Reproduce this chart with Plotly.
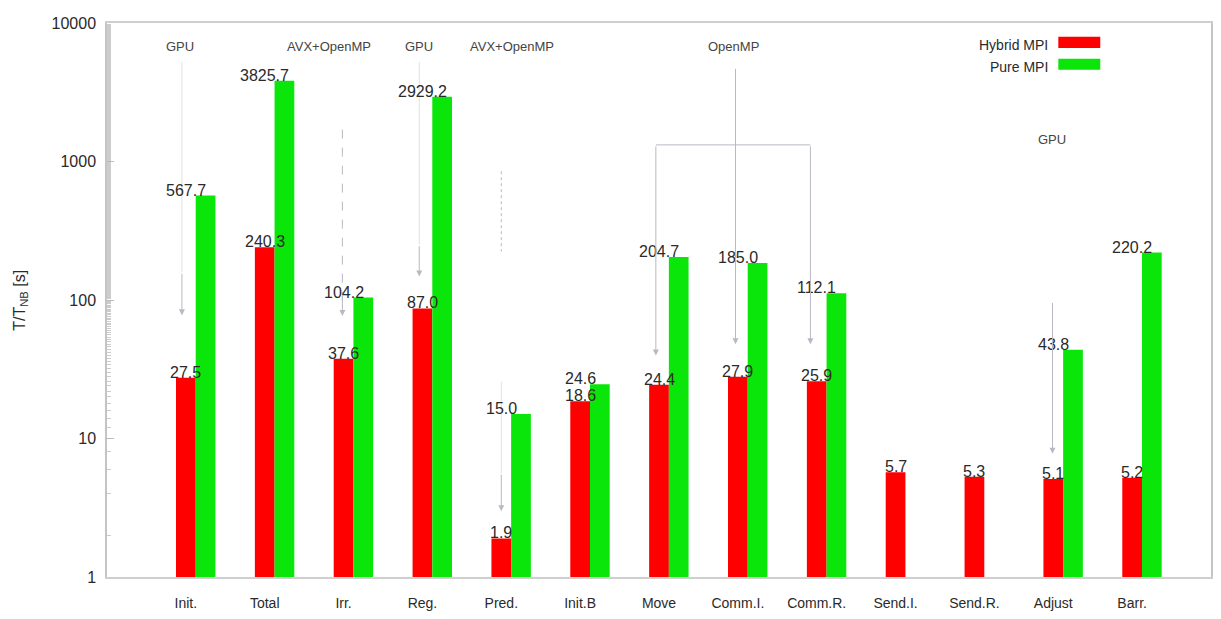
import math
import plotly.graph_objects as go

# Timing breakdown per phase, normalised by T_NB
categories = ["Init.", "Total", "Irr.", "Reg.", "Pred.", "Init.B", "Move",
              "Comm.I.", "Comm.R.", "Send.I.", "Send.R.", "Adjust", "Barr."]
hybrid_mpi = [27.5, 240.3, 37.6, 87.0, 1.9, 18.6, 24.4, 27.9, 25.9, 5.7, 5.3, 5.1, 5.2]
pure_mpi = [567.7, 3825.7, 104.2, 2929.2, 15.0, 24.6, 204.7, 185.0, 112.1, None, None, 43.8, 220.2]
y_tick_values = [1, 10, 100, 1000, 10000]
y_tick_labels = ["1", "10", "100", "1000", "10000"]

RED = "#ff0000"
GREEN = "#0ae60a"
TEXT = "#2a2a2a"
GUIDE = "#bdb6c4"
FAINT = "#e2dfe6"
FONT = "Liberation Sans, Arial, sans-serif"
BAR_W = 0.25

pos = list(range(len(categories)))

fig = go.Figure()
fig.add_trace(go.Bar(x=pos, y=hybrid_mpi, width=BAR_W, offset=-BAR_W / 2,
                     marker=dict(color=RED, line=dict(width=0)), name="Hybrid MPI",
                     showlegend=False))
fig.add_trace(go.Bar(x=pos, y=pure_mpi, width=BAR_W, offset=BAR_W / 2,
                     marker=dict(color=GREEN, line=dict(width=0)), name="Pure MPI",
                     showlegend=False))

annotations = []

# value labels above each bar, centred on the category
for series in (hybrid_mpi, pure_mpi):
    for i, v in enumerate(series):
        if v is None:
            continue
        annotations.append(dict(x=i, y=math.log10(v), xref="x", yref="y",
                                text=f"{v:.1f}", showarrow=False, yanchor="bottom",
                                xanchor="center", yshift=-5,
                                font=dict(family=FONT, size=16, color=TEXT)))

# optimisation notes at the top of the chart
notes = [(-0.08, 0.957, "GPU"), (1.82, 0.957, "AVX+OpenMP"), (2.96, 0.957, "GPU"),
         (4.13, 0.957, "AVX+OpenMP"), (6.95, 0.957, "OpenMP"), (10.98, 0.79, "GPU")]
for x, y, t in notes:
    annotations.append(dict(x=x, y=y, xref="x", yref="paper", text=t, showarrow=False,
                            xanchor="center", yanchor="middle",
                            font=dict(family=FONT, size=13, color="#444")))


def arrow(x, y_tail, y_tip, color=GUIDE):
    annotations.append(dict(x=x, y=y_tip, ax=x, ay=y_tail, xref="x", yref="y",
                            axref="x", ayref="y", text="", showarrow=True,
                            arrowhead=2, arrowsize=1.2, arrowwidth=1, arrowcolor=color))


def guide(xs, ys, dash="solid", color=GUIDE):
    fig.add_trace(go.Scatter(x=xs, y=[10 ** v for v in ys], mode="lines",
                             line=dict(color=color, width=1, dash=dash),
                             hoverinfo="skip", showlegend=False))


# GPU -> Init.
guide([-0.05, -0.05], [3.72, 2.2], color=FAINT)
arrow(-0.05, 2.2, 1.89)
# AVX+OpenMP -> Irr. (dashed)
guide([1.985, 1.985], [3.23, 1.95], "dash")
arrow(1.985, 2.05, 1.885)
# GPU -> Reg.
guide([2.96, 2.96], [3.72, 2.4], color=FAINT)
arrow(2.96, 2.4, 2.17)
# AVX+OpenMP -> Pred. (dotted)
guide([4.0, 4.0], [2.93, 2.35], "dot")
guide([4.0, 4.0], [1.41, 0.75], color=FAINT)
arrow(4.0, 0.75, 0.475)
# OpenMP -> Move / Comm.I. / Comm.R.
guide([5.96, 7.92], [3.12, 3.12])
arrow(6.97, 3.68, 1.68)
arrow(5.96, 3.12, 1.60)
arrow(7.92, 3.12, 1.68)
# GPU -> Adjust
arrow(10.99, 1.99, 0.89)

# key, drawn as text on the left of each swatch
key = [("Hybrid MPI", RED, 0.9604, 0.955, 0.975), ("Pure MPI", GREEN, 0.9209, 0.9155, 0.9353)]
shapes = []
for label, col, ty, y0, y1 in key:
    annotations.append(dict(x=0.8544, y=ty, xref="paper", yref="paper", text=label,
                            showarrow=False, xanchor="right", yanchor="middle",
                            font=dict(family=FONT, size=14, color=TEXT)))
    shapes.append(dict(type="rect", xref="paper", yref="paper", x0=0.8617, x1=0.8997,
                       y0=y0, y1=y1, fillcolor=col, line=dict(width=0)))

# y-axis title
annotations.append(dict(x=-0.079, y=0.5, xref="paper", yref="paper",
                        text="T/T<sub>NB</sub> [s]", showarrow=False, textangle=-90,
                        xanchor="center", yanchor="middle",
                        font=dict(family=FONT, size=16, color=TEXT)))

fig.update_layout(
    width=1221, height=619,
    margin=dict(l=107, r=8, t=23, b=40),
    paper_bgcolor="white", plot_bgcolor="white",
    barmode="overlay",
    annotations=annotations,
    shapes=shapes,
    font=dict(family=FONT, color=TEXT),
)
fig.update_xaxes(range=[-1, 13], tickvals=pos, ticktext=categories, showgrid=False,
                 zeroline=False, showline=True, linecolor="#cfcfcf", linewidth=1.5,
                 mirror=True, ticks="", ticklabelstandoff=12,
                 tickfont=dict(family=FONT, size=14, color=TEXT))
fig.update_yaxes(type="log", range=[0, 4], tickvals=y_tick_values, ticktext=y_tick_labels,
                 showgrid=False, zeroline=False, showline=True, linecolor="#c4c4c4",
                 linewidth=1.5, mirror=True, ticks="inside", ticklen=7, tickcolor="#bbbbbb",
                 minor=dict(ticks="inside", ticklen=4, tickcolor="#cccccc"),
                 ticklabelstandoff=6, tickfont=dict(family=FONT, size=16, color=TEXT))

fig.write_html("out.html")
